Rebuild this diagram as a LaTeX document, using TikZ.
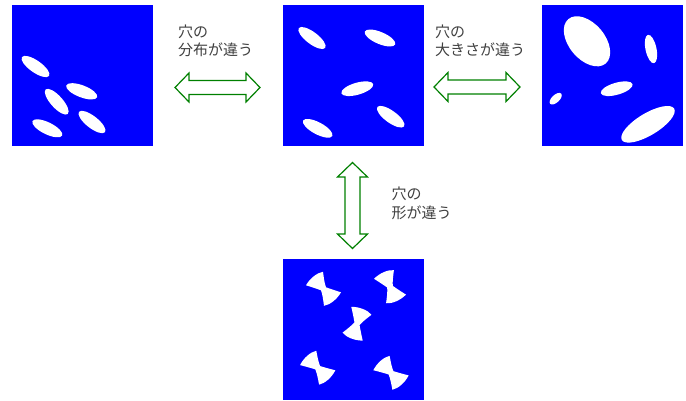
\documentclass[tikz,border=0pt]{standalone}
\usepackage{fontspec}
\newfontfamily\jp{Noto Sans CJK JP}
\usetikzlibrary{calc}
\definecolor{sqblue}{RGB}{0,0,255}
\definecolor{arrgreen}{RGB}{0,128,0}
\tikzset{
  sq/.style={fill=sqblue, draw=none, minimum width=141pt, minimum height=141pt, inner sep=0pt, outer sep=0pt},
  arr/.style={draw=arrgreen, fill=white, line width=1.2pt, line join=miter},
  lbl/.style={font=\jp\fontsize{15}{18.5}\selectfont, text=black!75, align=left, anchor=north west, inner sep=0pt},
  pics/bowtie/.style={code={
    \fill[white] (-17.5,-3.5) .. controls (-13.5,-10.5) and (-6.5,-16) .. (-0.5,-17)
      .. controls (0.3,-11) and (1,-5.5) .. (2.5,-1.5)
      .. controls (7.5,0.3) and (12.5,2) .. (17.5,3.5)
      .. controls (13.5,10.5) and (6.5,16) .. (0.5,17)
      .. controls (-0.3,11) and (-1,5.5) .. (-2.5,1.5)
      .. controls (-7.5,-0.3) and (-12.5,-2) .. cycle;
  }}
}
\newcommand\holeE[5]{\fill[white,shift={(#1,#2)},rotate=#3] (0,0) ellipse [x radius=#4, y radius=#5];}
\begin{document}
\begin{tikzpicture}[x=1pt,y=-1pt]
\useasboundingbox (0,0) rectangle (686,400);
% squares
\node[sq] (s1) at (82,75.5) {};
\node[sq] (s2) at (353.5,75.5) {};
\node[sq] (s3) at (612,75.5) {};
\node[sq] (s4) at (353.5,329) {};
% holes in s1
\holeE{35.5}{66.5}{-35}{16.5}{6}
\holeE{81.7}{91.3}{-21}{16.5}{6}
\holeE{56.7}{101.7}{-48}{16.5}{6}
\holeE{92}{122}{-38}{16.5}{6}
\holeE{47.3}{128.3}{-26}{16.5}{6}
% holes in s2
\holeE{312}{38}{-37}{16.5}{6}
\holeE{380}{38}{-23}{16.5}{6}
\holeE{357.3}{88.7}{16}{16.5}{6}
\holeE{390.7}{116.7}{-36}{16.5}{6}
\holeE{317.7}{128.3}{-28}{16.5}{6}
% holes in s3
\holeE{587}{41.3}{-50}{29}{18}
\holeE{651}{49}{-78}{14.5}{5.5}
\holeE{616.7}{88.7}{16}{16.5}{6}
\holeE{555.7}{98.7}{43}{7.5}{3.8}
\holeE{648}{124.3}{31}{30.5}{11}
% holes in s4
\pic at (323.5,288.8) {bowtie};
\pic[rotate=-15] at (390,286.7) {bowtie};
\pic[rotate=-60] at (357,323.7) {bowtie};
\pic[rotate=3] at (317.7,367.7) {bowtie};
\pic[rotate=3] at (391,372.8) {bowtie};
% arrow end points
\coordinate (a1l) at (175,87.5);
\coordinate (a1r) at (260,87.5);
\coordinate (a2l) at (434,87);
\coordinate (a2r) at (520,87);
\coordinate (a3t) at (352.5,162.5);
\coordinate (a3b) at (352.5,248.5);
% double arrows
\draw[arr] (a1l) -- ++(14,-14.5) -- ++(0,7.5) -- ($(a1r)+(-14,-7)$) -- ++(0,-7.5) -- (a1r)
  -- ++(-14,14.5) -- ++(0,-7.5) -- ($(a1l)+(14,7)$) -- ++(0,7.5) -- cycle;
\draw[arr] (a2l) -- ++(14,-14.5) -- ++(0,7.5) -- ($(a2r)+(-14,-7)$) -- ++(0,-7.5) -- (a2r)
  -- ++(-14,14.5) -- ++(0,-7.5) -- ($(a2l)+(14,7)$) -- ++(0,7.5) -- cycle;
\draw[arr] (a3t) -- ++(15,14.5) -- ++(-7.5,0) -- ($(a3b)+(7.5,-14.5)$) -- ++(7.5,0) -- (a3b)
  -- ++(-15,-14.5) -- ++(7.5,0) -- ($(a3t)+(-7.5,14.5)$) -- ++(-7.5,0) -- cycle;
% labels
\node[lbl] (t1) at (178,24.5) {穴の\\分布が違う};
\node[lbl] (t2) at (435,24.5) {穴の\\大きさが違う};
\node[lbl] (t3) at (391.5,187) {穴の\\形が違う};
\end{tikzpicture}
\end{document}
